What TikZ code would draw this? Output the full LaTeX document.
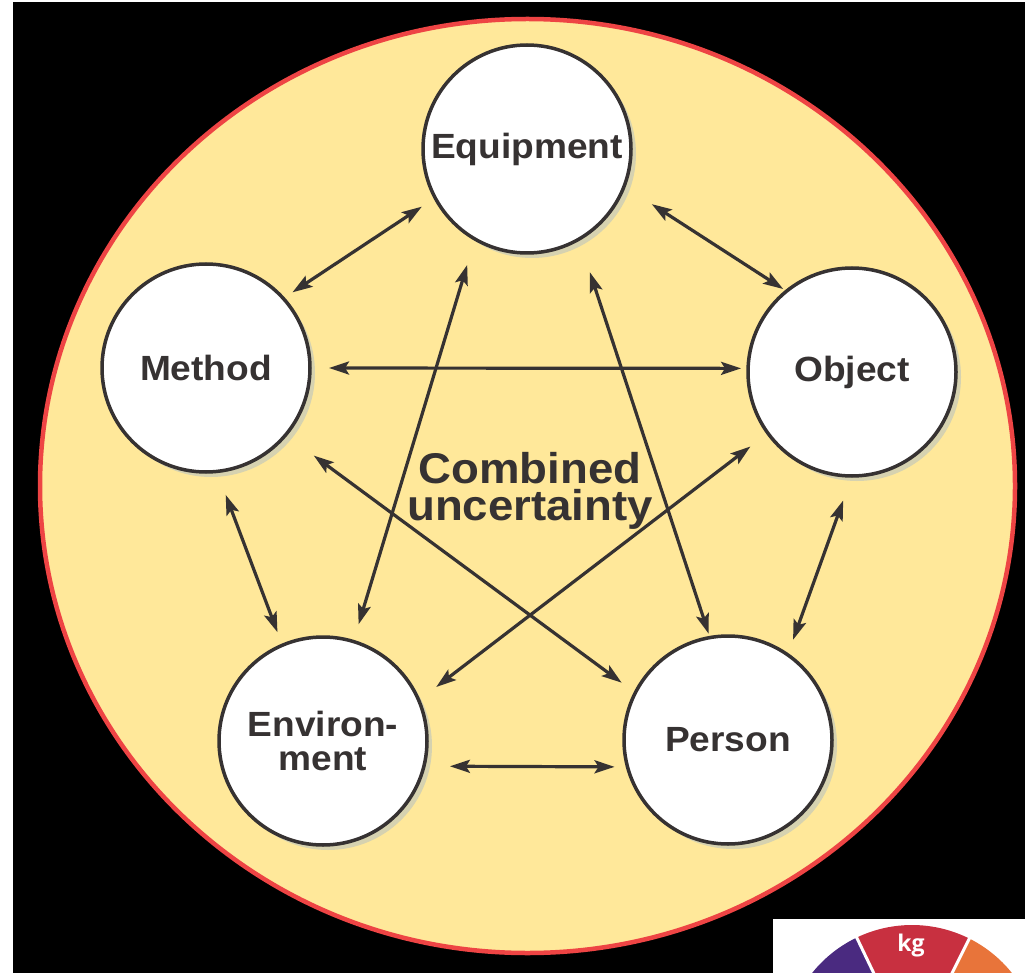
\documentclass[tikz,border=0pt]{standalone}
\usepackage{fontspec}
\newfontfamily\lblfont{Liberation Sans}[FakeStretch=1.06]
\newfontfamily\wheelfont{Open Sans}
\usetikzlibrary{arrows.meta,shadows}
\definecolor{paper}{HTML}{FFE89A}
\definecolor{rim}{HTML}{EE4444}
\definecolor{ink}{HTML}{363232}
\definecolor{shade}{HTML}{D6D2B0}
\definecolor{wpurple}{HTML}{4A2A80}
\definecolor{wred}{HTML}{C83040}
\definecolor{worange}{HTML}{E8743A}
\begin{document}
\begin{tikzpicture}[x=1pt,y=-1pt,
  factor/.style={circle, draw=ink, line width=3.5pt, fill=white,
    minimum size=208pt, inner sep=0pt, outer sep=0pt, text=ink,
    font=\lblfont\bfseries\fontsize{35}{35}\selectfont, align=center,
    drop shadow={shadow xshift=5pt, shadow yshift=-5pt, fill=shade, opacity=1}},
  tipend/.tip={Stealth[length=20pt,width=13pt,inset=4pt]},
  link/.style={draw=ink, line width=3.2pt, tipend-tipend},
]
\useasboundingbox (0,0) rectangle (1025,973);
% page frame
\fill[white] (0,0) rectangle (1025,973);
\fill[black] (13,2) rectangle (1025,973);

% large disc holding the five factors
\draw[fill=paper, draw=rim, line width=4.5pt] (527.5,486) ellipse [x radius=487.5, y radius=467];

% factors
\node[factor] (eq) at (527,149) {Equipment};
\node[factor] (me) at (206,368) {Method};
\node[factor] (ob) at (852,372) {Object};
\node[factor] (en) at (323,741) {Environ-\\[-1pt]ment};
\node[factor] (pe) at (728,740) {Person};

\node[text=ink, font=\lblfont\bfseries\fontsize{43}{37}\selectfont, align=center]
  (cu) at (530,491) {Combined\\uncertainty};

% pairwise influences
\draw[link, shorten <=16pt, shorten >=11pt] (eq.208.7) -- (me.42.2);
\draw[link, shorten <=33pt, shorten >=4pt]  (eq.339) -- (ob.129);
\draw[link, shorten <=19pt, shorten >=7pt]  (me.0) -- (ob.178);
\draw[link, shorten <=35pt, shorten >=17pt] (me.320) -- (pe.153.9);
\draw[link, shorten <=22pt, shorten >=22pt] (ob.216.7) -- (en.23.1);
\draw[link, shorten <=27pt, shorten >=18pt] (eq.240.7) -- (en.73.9);
\draw[link, shorten <=35pt, shorten >=4pt]  (eq.300.8) -- (pe.100.1);
\draw[link, shorten <=25pt, shorten >=14pt] (me.276.6) -- (en.113.3);
\draw[link, shorten <=26pt, shorten >=16pt] (ob.270.4) -- (pe.55.4);
\draw[link, shorten <=26pt, shorten >=13pt] (en.346.3) -- (pe.195.2);

% unit wheel in the corner
\fill[white] (773,919) rectangle (1025,973);
\begin{scope}
  \clip (773,919) rectangle (1025,973);
  \begin{scope}[shift={(912,1053)}, y=1pt]
    \fill[wpurple] (0,0) -- (115.6:128) arc[start angle=115.6, end angle=175, radius=128] -- cycle;
    \fill[wred] (0,0) -- (63.4:128) arc[start angle=63.4, end angle=115.6, radius=128] -- cycle;
    \fill[worange] (0,0) -- (5:128) arc[start angle=5, end angle=63.4, radius=128] -- cycle;
    \draw[white, line width=3pt] (0,0) -- (63.4:132) (0,0) -- (115.6:132);
  \end{scope}
\end{scope}
\node[text=white, font=\wheelfont\bfseries\fontsize{23}{23}\selectfont] (kg) at (911,946) {kg};
\end{tikzpicture}
\end{document}
